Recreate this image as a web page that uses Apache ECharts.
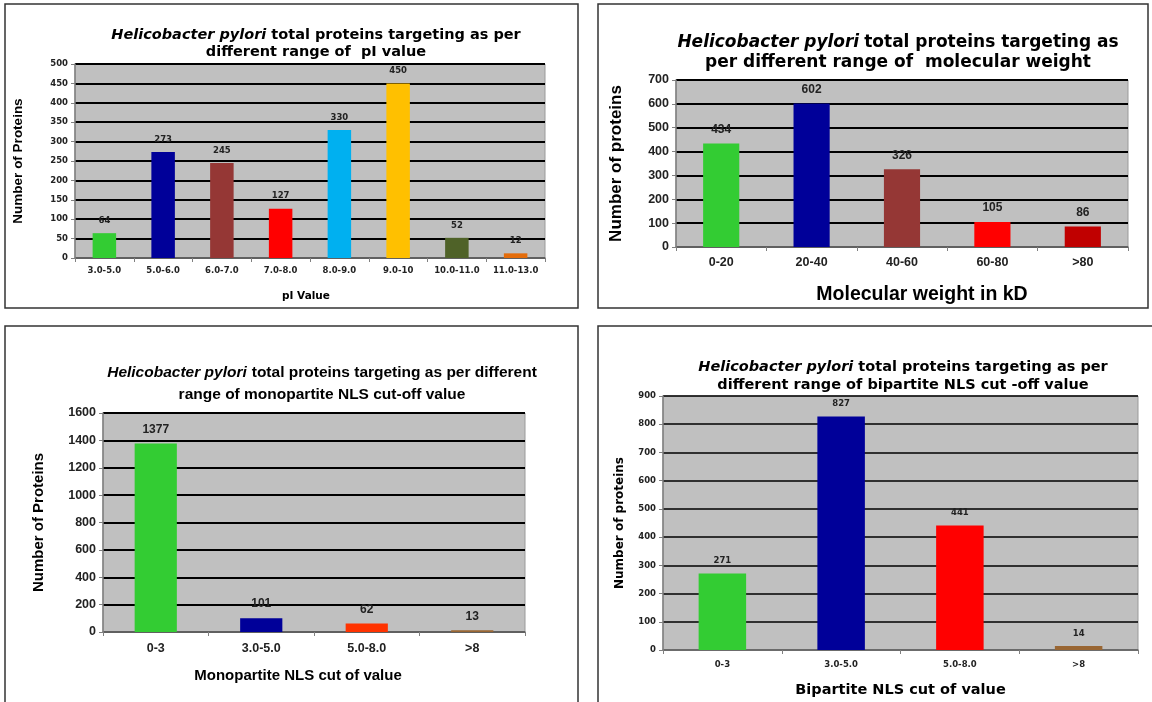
<!DOCTYPE html>
<html>
<head>
<meta charset="utf-8">
<script src="https://cdn.jsdelivr.net/npm/echarts@6/dist/echarts.min.js"></script>
<style>
  html, body { margin: 0; padding: 0; background: #fff; }
  #main { width: 1152px; height: 702px; }
</style>
</head>
<body>
<div id="main"></div>
<script>
// pI value chart
const piCategories = ["3.0-5.0", "5.0-6.0", "6.0-7.0", "7.0-8.0", "8.0-9.0", "9.0-10", "10.0-11.0", "11.0-13.0"];
const piValues = [64, 273, 245, 127, 330, 450, 52, 12];
const piTicks = [0, 50, 100, 150, 200, 250, 300, 350, 400, 450, 500];

// molecular weight chart
const mwCategories = ["0-20", "20-40", "40-60", "60-80", ">80"];
const mwValues = [434, 602, 326, 105, 86];
const mwTicks = [0, 100, 200, 300, 400, 500, 600, 700];

// monopartite NLS chart
const monoCategories = ["0-3", "3.0-5.0", "5.0-8.0", ">8"];
const monoValues = [1377, 101, 62, 13];
const monoTicks = [0, 200, 400, 600, 800, 1000, 1200, 1400, 1600];

// bipartite NLS chart
const biCategories = ["0-3", "3.0-5.0", "5.0-8.0", ">8"];
const biValues = [271, 827, 441, 14];
const biTicks = [0, 100, 200, 300, 400, 500, 600, 700, 800, 900];

// bar colours per panel
const piColors = ["#33cc33", "#000099", "#953735", "#ff0000", "#00b0f0", "#ffc000", "#4f6228", "#e46c0a"];
const mwColors = ["#33cc33", "#000099", "#953735", "#ff0000", "#c00000"];
const monoColors = ["#33cc33", "#000099", "#ff3300", "#996633"];
const biColors = ["#33cc33", "#000099", "#ff0000", "#996633"];

const ARIAL = "Liberation Sans, Arial, sans-serif";
const WIDE = "DejaVu Sans, Verdana, sans-serif";

const chart = echarts.init(document.getElementById("main"));

// panel layout: grid box, fonts, name gaps
const panels = [
  { cats: piCategories, vals: piValues, ticks: piTicks, colors: piColors,
    grid: { left: 75, top: 64, width: 470, height: 194 },
    font: WIDE, tick: 8.5, xMargin: 8, label: 8.5,
    yName: "Number of Proteins", yFont: ARIAL, yNameSize: 13.5, yGap: 50,
    xName: "pI Value", xFont: WIDE, xNameSize: 10.5, xGap: 33, xPad: [0, 8, 0, 0], gridW: 2 },
  { cats: mwCategories, vals: mwValues, ticks: mwTicks, colors: mwColors,
    grid: { left: 676, top: 80, width: 452, height: 167 },
    font: ARIAL, tick: 12.5, xMargin: 9, label: 12,
    yName: "Number of proteins", yFont: ARIAL, yNameSize: 17, yGap: 51,
    xName: "Molecular weight in kD", xFont: ARIAL, xNameSize: 19.5, xGap: 38, xPad: [0, 0, 0, 40], gridW: 2 },
  { cats: monoCategories, vals: monoValues, ticks: monoTicks, colors: monoColors,
    grid: { left: 103, top: 413, width: 422, height: 219 },
    font: ARIAL, tick: 12.5, xMargin: 10, label: 12,
    yName: "Number of Proteins", yFont: ARIAL, yNameSize: 15, yGap: 57,
    xName: "Monopartite NLS cut of value", xFont: ARIAL, xNameSize: 15, xGap: 36, xPad: [0, 32, 0, 0], gridW: 2 },
  { cats: biCategories, vals: biValues, ticks: biTicks, colors: biColors,
    grid: { left: 663, top: 396, width: 475, height: 254 },
    font: WIDE, tick: 8.5, xMargin: 10, label: 8.5,
    yName: "Number of proteins", yFont: WIDE, yNameSize: 12, yGap: 37,
    xName: "Bipartite NLS cut of value", xFont: WIDE, xNameSize: 14.5, xGap: 33, xPad: [0, 0, 0, 0], gridW: 1.5 },
];

const titles = [
  { x: 316, y: 26, font: WIDE, size: 14.5, lh: 17, l1: "total proteins targeting as per", l2: "different range of  pI value" },
  { x: 898, y: 33, font: WIDE, size: 17, lh: 20, l1: "total proteins targeting as", l2: "per different range of  molecular weight" },
  { x: 322, y: 362, font: ARIAL, size: 15.5, lh: 22, l1: "total proteins targeting as per different", l2: "range of monopartite NLS cut-off value" },
  { x: 903, y: 358, font: WIDE, size: 14.5, lh: 18, l1: "total proteins targeting as per", l2: "different range of bipartite NLS cut -off value" },
];

const option = {
  animation: false,
  backgroundColor: "#fff",
  textStyle: { fontFamily: ARIAL },
  graphic: [
    { type: "rect", shape: { x: 5, y: 4, width: 573, height: 304 }, style: { fill: null, stroke: "#333", lineWidth: 1.5 } },
    { type: "rect", shape: { x: 598, y: 4, width: 550, height: 304 }, style: { fill: null, stroke: "#333", lineWidth: 1.5 } },
    { type: "rect", shape: { x: 5, y: 326, width: 573, height: 380 }, style: { fill: null, stroke: "#333", lineWidth: 1.5 } },
    { type: "rect", shape: { x: 598, y: 326, width: 560, height: 380 }, style: { fill: null, stroke: "#333", lineWidth: 1.5 } },
  ],
  title: titles.map(t => ({
    left: t.x,
    top: t.y,
    padding: 0,
    textAlign: "center",
    text: "{i|Helicobacter pylori} {b|" + t.l1 + "}\n{b|" + t.l2 + "}",
    textStyle: {
      rich: {
        i: { fontFamily: t.font, fontStyle: "italic", fontWeight: "bold", fontSize: t.size, color: "#000", lineHeight: t.lh },
        b: { fontFamily: t.font, fontWeight: "bold", fontSize: t.size, color: "#000", lineHeight: t.lh },
      },
    },
  })),
  grid: panels.map(p => Object.assign({
    show: true, backgroundColor: "#c0c0c0", borderColor: "#9a9a9a", borderWidth: 1,
  }, p.grid)),
  xAxis: panels.map((p, i) => ({
    type: "category",
    gridIndex: i,
    data: p.cats,
    name: p.xName,
    nameLocation: "middle",
    nameGap: p.xGap,
    nameTextStyle: { fontFamily: p.xFont, fontWeight: "bold", fontSize: p.xNameSize, color: "#000", padding: p.xPad },
    axisLine: { lineStyle: { color: "#808080", width: 1.5 } },
    axisTick: { show: true, alignWithLabel: false, length: 4, lineStyle: { color: "#808080" } },
    axisLabel: { interval: 0, fontFamily: p.font, fontWeight: "bold", fontSize: p.tick, color: "#222", margin: p.xMargin },
    splitLine: { show: false },
  })),
  yAxis: panels.map((p, i) => ({
    type: "value",
    gridIndex: i,
    min: p.ticks[0],
    max: p.ticks[p.ticks.length - 1],
    interval: p.ticks[1] - p.ticks[0],
    name: p.yName,
    nameLocation: "middle",
    nameRotate: 90,
    nameGap: p.yGap,
    nameTextStyle: { fontFamily: p.yFont, fontWeight: "bold", fontSize: p.yNameSize, color: "#000" },
    axisLine: { show: true, lineStyle: { color: "#808080", width: 1.5 } },
    axisTick: { show: true, length: 4, lineStyle: { color: "#808080" } },
    axisLabel: {
      fontFamily: p.font, fontWeight: "bold", fontSize: p.tick, color: "#222", margin: 7,
      formatter: v => String(v),
    },
    splitLine: { show: true, lineStyle: { color: "#000", width: p.gridW } },
  })),
  series: panels.map((p, i) => ({
    type: "bar",
    xAxisIndex: i,
    yAxisIndex: i,
    barWidth: "40%",
    data: p.vals.map((v, k) => ({ value: v, itemStyle: { color: p.colors[k] } })),
    label: {
      show: true,
      position: "top",
      distance: 8,
      fontFamily: p.font,
      fontWeight: "bold",
      fontSize: p.label,
      color: "#222",
    },
  })),
};

chart.setOption(option);
</script>
</body>
</html>
